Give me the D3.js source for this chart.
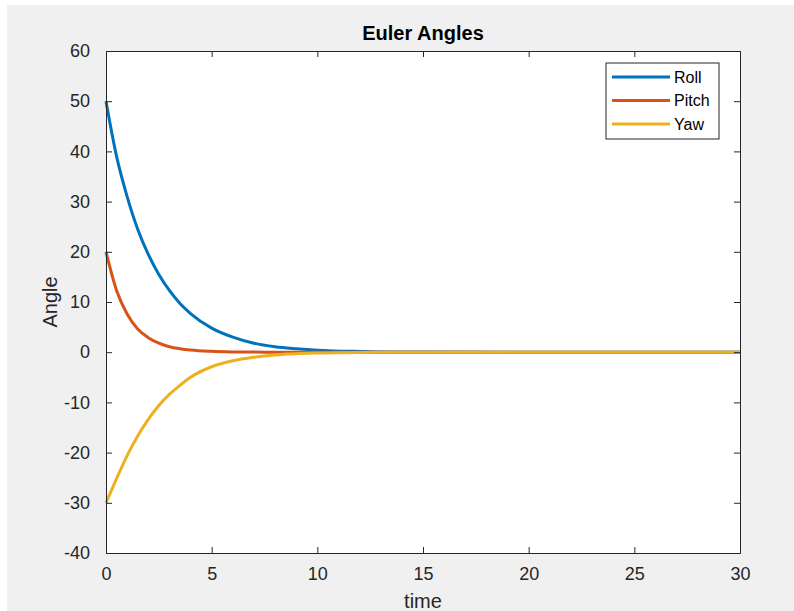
<!DOCTYPE html>
<html>
<head>
<meta charset="utf-8">
<script src="https://cdn.jsdelivr.net/npm/d3@7"></script>
<style>
  html, body { margin: 0; padding: 0; background: #fff; }
  svg { display: block; font-family: "Liberation Sans", Arial, sans-serif; }
</style>
</head>
<body>
<svg id="chart" width="794" height="611"></svg>
<script>
// time samples (s)
const time = [0, 0.5, 1, 1.5, 2, 2.5, 3, 3.5, 4, 5, 6, 7, 8, 9, 10, 12, 15, 20, 25, 30];

// angles
const roll  = [50, 39, 31, 24.5, 19.5, 15.5, 12.3, 9.7, 7.7, 4.8, 3.0, 1.8, 1.1, 0.7, 0.4, 0.15, 0.03, 0, 0, 0];
const pitch = [20, 12.3, 7.6, 4.6, 2.9, 1.8, 1.1, 0.7, 0.43, 0.17, 0.06, 0.02, 0.01, 0, 0, 0, 0, 0, 0, 0];
const yaw   = [-30, -25.2, -20.6, -16.7, -13.4, -10.6, -8.4, -6.6, -5.0, -2.9, -1.7, -1.0, -0.55, -0.3, -0.17, -0.05, 0, 0, 0, 0];

const seriesNames = ['Roll', 'Pitch', 'Yaw'];
const seriesColors = ['#0072BD', '#D95319', '#EDB120'];

const xTicks = [0, 5, 10, 15, 20, 25, 30];
const yTicks = [-40, -30, -20, -10, 0, 10, 20, 30, 40, 50, 60];

const MARGIN = { top: 51, right: 54, bottom: 58, left: 106 };
const W = 794, H = 611;
const AXIS = '#262626';

const svg = d3.select('#chart');

// figure background
svg.append('rect')
  .attr('x', 7).attr('y', 5)
  .attr('width', W - 7).attr('height', H - 5)
  .attr('fill', '#f0f0f0');

const x = d3.scaleLinear().domain([0, 30]).range([MARGIN.left, W - MARGIN.right]);
const y = d3.scaleLinear().domain([-40, 60]).range([H - MARGIN.bottom, MARGIN.top]);

// plot area
svg.append('rect')
  .attr('x', x(0)).attr('y', y(60))
  .attr('width', x(30) - x(0)).attr('height', y(-40) - y(60))
  .attr('fill', '#fff');

const series = [roll, pitch, yaw].map((vals, i) => ({
  name: seriesNames[i],
  color: seriesColors[i],
  points: vals.map((v, j) => [time[j], v]),
}));

const line = d3.line()
  .x(d => x(d[0]))
  .y(d => y(d[1]))
  .curve(d3.curveMonotoneX);

const plot = svg.append('g');
plot.selectAll('path.series')
  .data(series)
  .enter()
  .append('path')
  .attr('class', 'series')
  .attr('fill', 'none')
  .attr('stroke', d => d.color)
  .attr('stroke-width', 3)
  .attr('d', d => line(d.points));

// axes, ticks inward on all four sides
const tickLen = 6;
const fmt = d => String(d); // plain hyphen minus like MATLAB
const styleAxis = g => {
  g.select('.domain').attr('stroke', AXIS).attr('stroke-width', 1);
  g.selectAll('.tick line').attr('stroke', AXIS);
  g.selectAll('.tick text').attr('fill', AXIS).attr('font-size', 18);
};

svg.append('g')
  .attr('transform', `translate(0,${y(-40)})`)
  .call(d3.axisBottom(x).tickValues(xTicks).tickFormat(fmt).tickSizeInner(-tickLen).tickSizeOuter(0).tickPadding(14))
  .call(styleAxis)
  .call(g => g.selectAll('.tick text').attr('dy', '0.71em'));

svg.append('g')
  .attr('transform', `translate(0,${y(60)})`)
  .call(d3.axisTop(x).tickValues(xTicks).tickSizeInner(-tickLen).tickSizeOuter(0).tickFormat(''))
  .call(styleAxis);

svg.append('g')
  .attr('transform', `translate(${x(0)},0)`)
  .call(d3.axisLeft(y).tickValues(yTicks).tickFormat(fmt).tickSizeInner(-tickLen).tickSizeOuter(0).tickPadding(16))
  .call(styleAxis);

svg.append('g')
  .attr('transform', `translate(${x(30)},0)`)
  .call(d3.axisRight(y).tickValues(yTicks).tickSizeInner(-tickLen).tickSizeOuter(0).tickFormat(''))
  .call(styleAxis);

// titles
svg.append('text')
  .attr('x', (x(0) + x(30)) / 2).attr('y', 40)
  .attr('text-anchor', 'middle')
  .attr('font-size', 20).attr('font-weight', 'bold')
  .attr('fill', '#000')
  .text('Euler Angles');

svg.append('text')
  .attr('x', (x(0) + x(30)) / 2).attr('y', 608)
  .attr('text-anchor', 'middle')
  .attr('font-size', 20)
  .attr('fill', AXIS)
  .text('time');

svg.append('text')
  .attr('transform', `translate(57,${(y(-40) + y(60)) / 2}) rotate(-90)`)
  .attr('text-anchor', 'middle')
  .attr('font-size', 20)
  .attr('fill', AXIS)
  .text('Angle');

// legend
const legend = svg.append('g').attr('transform', 'translate(606,63)');
legend.append('rect')
  .attr('width', 113).attr('height', 76)
  .attr('fill', '#fff')
  .attr('stroke', AXIS).attr('stroke-width', 1);

const item = legend.selectAll('g.item')
  .data(series)
  .enter()
  .append('g')
  .attr('class', 'item')
  .attr('transform', (d, i) => `translate(0,${14 + i * 23.5})`);

item.append('line')
  .attr('x1', 6).attr('x2', 64)
  .attr('stroke', d => d.color)
  .attr('stroke-width', 3);

item.append('text')
  .attr('x', 68).attr('dy', '0.35em')
  .attr('font-size', 16)
  .attr('fill', '#000')
  .text(d => d.name);
</script>
</body>
</html>
